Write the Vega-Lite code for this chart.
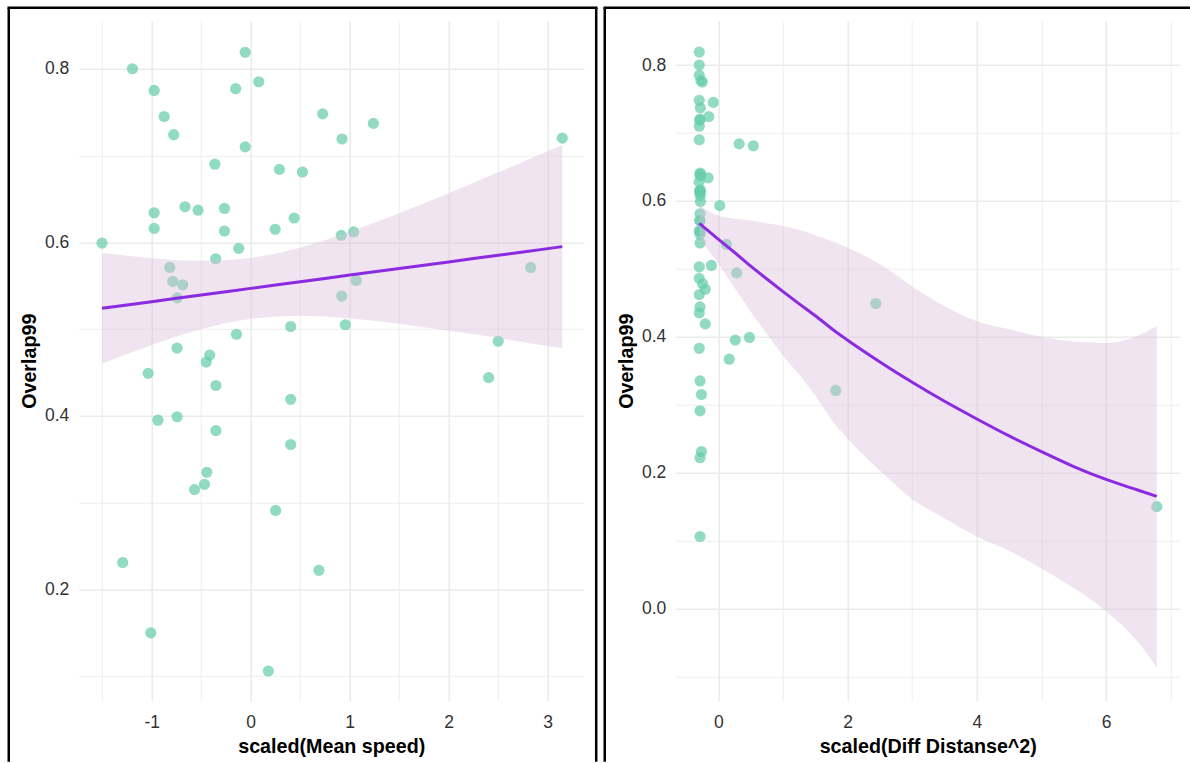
{
  "$schema": "https://vega.github.io/schema/vega-lite/v6.json",
  "autosize": {"type": "pad"},
  "padding": {"left": 6.75, "top": 5.75, "right": 0, "bottom": 0},
  "background": "white",
  "datasets": {
    "lp": [
      {"x": -1.502, "y": 0.599}, {"x": -1.195, "y": 0.800}, {"x": -0.975, "y": 0.775}, {"x": -0.874, "y": 0.745},
      {"x": -0.778, "y": 0.724}, {"x": -0.975, "y": 0.634}, {"x": -0.975, "y": 0.616}, {"x": -0.664, "y": 0.641},
      {"x": -0.532, "y": 0.637}, {"x": -0.056, "y": 0.819}, {"x": -0.152, "y": 0.777}, {"x": 0.081, "y": 0.785},
      {"x": -0.056, "y": 0.710}, {"x": -0.362, "y": 0.690}, {"x": -0.265, "y": 0.639}, {"x": -0.265, "y": 0.613},
      {"x": -0.121, "y": 0.593}, {"x": -0.818, "y": 0.571}, {"x": -0.788, "y": 0.555}, {"x": -0.687, "y": 0.551},
      {"x": -0.742, "y": 0.536}, {"x": -0.354, "y": 0.581}, {"x": -0.744, "y": 0.478}, {"x": -1.036, "y": 0.449},
      {"x": -0.414, "y": 0.470}, {"x": -0.449, "y": 0.462}, {"x": -0.352, "y": 0.435}, {"x": -0.144, "y": 0.494},
      {"x": -0.744, "y": 0.399}, {"x": -0.937, "y": 0.395}, {"x": -0.352, "y": 0.383}, {"x": -0.444, "y": 0.335},
      {"x": -0.467, "y": 0.321}, {"x": -0.567, "y": 0.315}, {"x": -1.293, "y": 0.231}, {"x": -1.009, "y": 0.150},
      {"x": 0.178, "y": 0.106}, {"x": 0.252, "y": 0.291}, {"x": 0.689, "y": 0.222}, {"x": 0.290, "y": 0.684},
      {"x": 0.522, "y": 0.681}, {"x": 0.439, "y": 0.628}, {"x": 0.247, "y": 0.615}, {"x": 0.404, "y": 0.503},
      {"x": 0.404, "y": 0.419}, {"x": 0.404, "y": 0.367}, {"x": 0.727, "y": 0.748}, {"x": 0.922, "y": 0.719},
      {"x": 1.239, "y": 0.737}, {"x": 0.914, "y": 0.608}, {"x": 1.040, "y": 0.612}, {"x": 0.919, "y": 0.538},
      {"x": 1.066, "y": 0.556}, {"x": 0.955, "y": 0.505}, {"x": 3.147, "y": 0.720}, {"x": 2.828, "y": 0.571},
      {"x": 2.500, "y": 0.486}, {"x": 2.403, "y": 0.444}
    ],
    "lf": [
      {"x": -1.502, "fit": 0.5240, "lo": 0.4602, "hi": 0.5878},
      {"x": -1.25, "fit": 0.5278, "lo": 0.4713, "hi": 0.5844},
      {"x": -1.0, "fit": 0.5316, "lo": 0.4817, "hi": 0.5815},
      {"x": -0.75, "fit": 0.5354, "lo": 0.4914, "hi": 0.5794},
      {"x": -0.5, "fit": 0.5393, "lo": 0.5000, "hi": 0.5786},
      {"x": -0.25, "fit": 0.5431, "lo": 0.5070, "hi": 0.5792},
      {"x": 0.0, "fit": 0.5469, "lo": 0.5119, "hi": 0.5819},
      {"x": 0.25, "fit": 0.5507, "lo": 0.5146, "hi": 0.5868},
      {"x": 0.5, "fit": 0.5545, "lo": 0.5153, "hi": 0.5938},
      {"x": 0.75, "fit": 0.5584, "lo": 0.5144, "hi": 0.6024},
      {"x": 1.0, "fit": 0.5622, "lo": 0.5123, "hi": 0.6121},
      {"x": 1.25, "fit": 0.5660, "lo": 0.5095, "hi": 0.6226},
      {"x": 1.5, "fit": 0.5698, "lo": 0.5060, "hi": 0.6336},
      {"x": 1.75, "fit": 0.5736, "lo": 0.5022, "hi": 0.6450},
      {"x": 2.0, "fit": 0.5774, "lo": 0.4982, "hi": 0.6566},
      {"x": 2.25, "fit": 0.5813, "lo": 0.4940, "hi": 0.6686},
      {"x": 2.5, "fit": 0.5851, "lo": 0.4896, "hi": 0.6806},
      {"x": 2.75, "fit": 0.5889, "lo": 0.4851, "hi": 0.6927},
      {"x": 3.0, "fit": 0.5927, "lo": 0.4805, "hi": 0.7049},
      {"x": 3.147, "fit": 0.5950, "lo": 0.4778, "hi": 0.7122}
    ],
    "rp": [
      {"x": -0.297, "y": 0.819}, {"x": -0.297, "y": 0.800}, {"x": -0.297, "y": 0.785}, {"x": -0.27, "y": 0.777},
      {"x": -0.25, "y": 0.775}, {"x": -0.297, "y": 0.748}, {"x": -0.08, "y": 0.745}, {"x": -0.28, "y": 0.737},
      {"x": -0.15, "y": 0.724}, {"x": -0.285, "y": 0.720}, {"x": -0.29, "y": 0.719}, {"x": -0.297, "y": 0.710},
      {"x": -0.297, "y": 0.690}, {"x": 0.32, "y": 0.684}, {"x": 0.54, "y": 0.681}, {"x": -0.28, "y": 0.641},
      {"x": -0.29, "y": 0.639}, {"x": -0.27, "y": 0.637}, {"x": -0.16, "y": 0.634}, {"x": -0.30, "y": 0.628},
      {"x": -0.28, "y": 0.616}, {"x": -0.29, "y": 0.615}, {"x": -0.28, "y": 0.613}, {"x": -0.29, "y": 0.612},
      {"x": -0.28, "y": 0.608}, {"x": -0.28, "y": 0.599}, {"x": 0.02, "y": 0.593}, {"x": -0.285, "y": 0.581},
      {"x": -0.285, "y": 0.571}, {"x": -0.29, "y": 0.571}, {"x": -0.297, "y": 0.556}, {"x": -0.285, "y": 0.555},
      {"x": -0.285, "y": 0.551}, {"x": -0.285, "y": 0.538}, {"x": 0.124, "y": 0.536}, {"x": -0.11, "y": 0.505},
      {"x": -0.297, "y": 0.503}, {"x": 0.283, "y": 0.494}, {"x": -0.297, "y": 0.486}, {"x": -0.246, "y": 0.478},
      {"x": -0.204, "y": 0.470}, {"x": -0.297, "y": 0.462}, {"x": 2.435, "y": 0.449}, {"x": -0.285, "y": 0.444},
      {"x": -0.297, "y": 0.435}, {"x": -0.204, "y": 0.419}, {"x": 0.48, "y": 0.399}, {"x": 0.26, "y": 0.395},
      {"x": -0.297, "y": 0.383}, {"x": 0.167, "y": 0.367}, {"x": -0.285, "y": 0.335}, {"x": 1.816, "y": 0.321},
      {"x": -0.263, "y": 0.315}, {"x": -0.285, "y": 0.291}, {"x": -0.263, "y": 0.231}, {"x": -0.285, "y": 0.222},
      {"x": 6.785, "y": 0.150}, {"x": -0.285, "y": 0.106}
    ],
    "rf": [
      {"x": -0.297, "fit": 0.567, "lo": 0.545, "hi": 0.594},
      {"x": 0.0, "fit": 0.5435, "lo": 0.507, "hi": 0.578},
      {"x": 0.25, "fit": 0.524, "lo": 0.472, "hi": 0.574},
      {"x": 0.5, "fit": 0.504, "lo": 0.437, "hi": 0.571},
      {"x": 0.75, "fit": 0.485, "lo": 0.404, "hi": 0.567},
      {"x": 1.0, "fit": 0.4665, "lo": 0.372, "hi": 0.563},
      {"x": 1.25, "fit": 0.4485, "lo": 0.344, "hi": 0.557},
      {"x": 1.5, "fit": 0.431, "lo": 0.313, "hi": 0.549},
      {"x": 1.8, "fit": 0.4085, "lo": 0.2715, "hi": 0.539},
      {"x": 2.0, "fit": 0.395, "lo": 0.250, "hi": 0.531},
      {"x": 2.5, "fit": 0.363, "lo": 0.203, "hi": 0.507},
      {"x": 3.0, "fit": 0.333, "lo": 0.161, "hi": 0.474},
      {"x": 3.5, "fit": 0.305, "lo": 0.133, "hi": 0.445},
      {"x": 4.0, "fit": 0.279, "lo": 0.106, "hi": 0.423},
      {"x": 4.5, "fit": 0.254, "lo": 0.085, "hi": 0.411},
      {"x": 5.0, "fit": 0.231, "lo": 0.059, "hi": 0.400},
      {"x": 5.5, "fit": 0.209, "lo": 0.030, "hi": 0.393},
      {"x": 6.0, "fit": 0.190, "lo": -0.004, "hi": 0.391},
      {"x": 6.5, "fit": 0.174, "lo": -0.050, "hi": 0.402},
      {"x": 6.785, "fit": 0.165, "lo": -0.087, "hi": 0.416}
    ]
  },
  "hconcat": [
    {
      "width": 505,
      "height": 680,
      "layer": [
        {
          "data": {"name": "lp"},
          "mark": {"type": "circle", "size": 125, "color": "#66CDAA", "opacity": 0.72},
          "encoding": {
            "x": {"field": "x", "type": "quantitative", "title": "scaled(Mean speed)",
                  "scale": {"domain": [-1.737, 3.364], "nice": false, "zero": false},
                  "axis": {"values": [-1.5, -1, -0.5, 0, 0.5, 1, 1.5, 2, 2.5, 3],
                           "labelExpr": "datum.value % 1 == 0 ? toString(datum.value) : ''",
                           "gridWidth": {"condition": {"test": "datum.value % 1 == 0", "value": 1.6}, "value": 0.8}}},
            "y": {"field": "y", "type": "quantitative", "title": "Overlap99",
                  "scale": {"domain": [0.0717, 0.8553], "nice": false, "zero": false},
                  "axis": {"values": [0.1, 0.2, 0.3, 0.4, 0.5, 0.6, 0.7, 0.8],
                           "labelExpr": "round(datum.value*10) % 2 == 0 ? format(datum.value, '.1f') : ''",
                           "gridWidth": {"condition": {"test": "round(datum.value*10) % 2 == 0", "value": 1.6}, "value": 0.8}}}
          }
        },
        {
          "data": {"name": "lf"},
          "mark": {"type": "area", "color": "#D8BFD8", "opacity": 0.42},
          "encoding": {
            "x": {"field": "x", "type": "quantitative"},
            "y": {"field": "lo", "type": "quantitative"},
            "y2": {"field": "hi"}
          }
        },
        {
          "data": {"name": "lf"},
          "mark": {"type": "line", "color": "#8A2BE2", "strokeWidth": 3},
          "encoding": {
            "x": {"field": "x", "type": "quantitative"},
            "y": {"field": "fit", "type": "quantitative"}
          }
        },
        {
          "data": {"values": [{}]},
          "mark": {"type": "rule", "color": "black", "strokeWidth": 2.5},
          "encoding": {"x": {"datum": -2.444}, "y": {"datum": 0.8703}, "y2": {"datum": 0.0014}}
        },
        {
          "data": {"values": [{}]},
          "mark": {"type": "rule", "color": "black", "strokeWidth": 2.5},
          "encoding": {"x": {"datum": 3.4899}, "y": {"datum": 0.8703}, "y2": {"datum": 0.0014}}
        },
        {
          "data": {"values": [{}]},
          "mark": {"type": "rule", "color": "black", "strokeWidth": 2.5, "strokeCap": "square"},
          "encoding": {"x": {"datum": -2.444}, "x2": {"datum": 3.4899}, "y": {"datum": 0.8703}}
        }
      ]
    },
    {
      "width": 504,
      "height": 680,
      "layer": [
        {
          "data": {"name": "rp"},
          "mark": {"type": "circle", "size": 125, "color": "#66CDAA", "opacity": 0.72},
          "encoding": {
            "x": {"field": "x", "type": "quantitative", "title": "scaled(Diff Distanse^2)",
                  "scale": {"domain": [-0.661, 7.141], "nice": false, "zero": false},
                  "axis": {"values": [0, 1, 2, 3, 4, 5, 6, 7],
                           "labelExpr": "datum.value % 2 == 0 ? toString(datum.value) : ''",
                           "gridWidth": {"condition": {"test": "datum.value % 2 == 0", "value": 1.6}, "value": 0.8}}},
            "y": {"field": "y", "type": "quantitative", "title": "Overlap99",
                  "scale": {"domain": [-0.1358, 0.8652], "nice": false, "zero": false},
                  "axis": {"values": [-0.1, 0, 0.1, 0.2, 0.3, 0.4, 0.5, 0.6, 0.7, 0.8],
                           "labelExpr": "round(datum.value*10) % 2 == 0 ? format(datum.value, '.1f') : ''",
                           "gridWidth": {"condition": {"test": "round(datum.value*10) % 2 == 0", "value": 1.6}, "value": 0.8}}}
          }
        },
        {
          "data": {"name": "rf"},
          "mark": {"type": "area", "color": "#D8BFD8", "opacity": 0.42, "interpolate": "monotone"},
          "encoding": {
            "x": {"field": "x", "type": "quantitative"},
            "y": {"field": "lo", "type": "quantitative"},
            "y2": {"field": "hi"}
          }
        },
        {
          "data": {"name": "rf"},
          "mark": {"type": "line", "color": "#8A2BE2", "strokeWidth": 3, "interpolate": "monotone"},
          "encoding": {
            "x": {"field": "x", "type": "quantitative"},
            "y": {"field": "fit", "type": "quantitative"}
          }
        },
        {
          "data": {"values": [{}]},
          "mark": {"type": "rule", "color": "black", "strokeWidth": 2.5},
          "encoding": {"x": {"datum": -1.760}, "y": {"datum": 0.8844}, "y2": {"datum": -0.2256}}
        },
        {
          "data": {"values": [{}]},
          "mark": {"type": "rule", "color": "black", "strokeWidth": 2.5, "strokeCap": "square"},
          "encoding": {"x": {"datum": -1.760}, "x2": {"datum": 7.280}, "y": {"datum": 0.8844}}
        }
      ]
    }
  ],
  "spacing": 92,
  "bounds": "flush",
  "config": {
    "view": {"stroke": null},
    "axis": {
      "domain": false,
      "ticks": false,
      "tickSize": 0,
      "grid": true,
      "gridColor": "#EBEBEB",
      "labelFont": "Liberation Sans",
      "labelFontSize": 17.5,
      "labelColor": "#333333",
      "labelOverlap": false,
      "labelFlush": false,
      "titleFont": "Liberation Sans",
      "titleFontSize": 19.7,
      "titleFontWeight": "bold",
      "titleColor": "#000000",
      "titlePadding": 5
    },
    "axisX": {"labelPadding": 13},
    "axisY": {"labelPadding": 10}
  }
}
